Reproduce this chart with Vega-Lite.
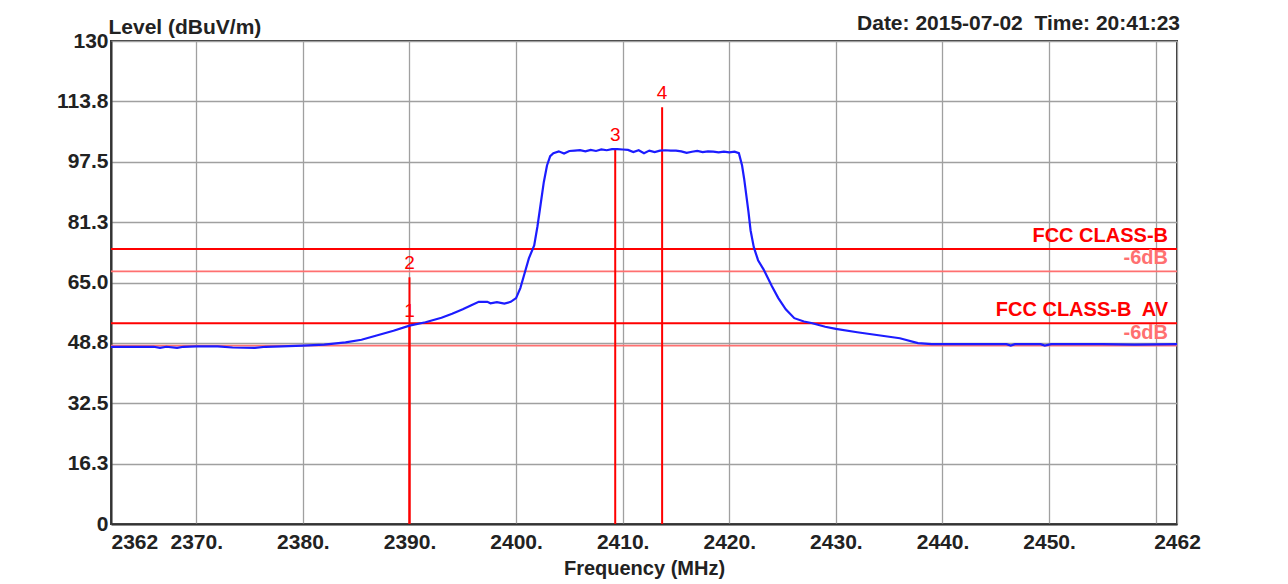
{
  "$schema": "https://vega.github.io/schema/vega-lite/v6.json",
  "width": 1066,
  "height": 483,
  "autosize": {"type": "none"},
  "padding": {"left": 111, "top": 41, "right": 111, "bottom": 60},
  "background": "white",
  "title": {
    "text": "Date: 2015-07-02\u00a0 Time: 20:41:23",
    "anchor": "end",
    "frame": "group",
    "font": "Liberation Sans",
    "fontSize": 21,
    "fontWeight": "bold",
    "color": "#222222",
    "offset": -18,
    "dx": 3
  },
  "config": {
    "view": {"stroke": "#333333", "strokeWidth": 2},
    "axis": {
      "labelFont": "Liberation Sans",
      "labelFontWeight": "bold",
      "labelFontSize": 21,
      "labelColor": "#222222",
      "titleFont": "Liberation Sans",
      "titleFontWeight": "bold",
      "titleColor": "#222222",
      "gridColor": "#a0a0a0",
      "gridWidth": 1.3,
      "gridOpacity": 1,
      "ticks": false,
      "domainColor": "#333333",
      "domainWidth": 2
    }
  },
  "datasets": {
    "trace": [
      {"f": 2362, "v": 47.7}, {"f": 2364, "v": 47.7}, {"f": 2366, "v": 47.7},
      {"f": 2366.6, "v": 47.4}, {"f": 2367.2, "v": 47.7}, {"f": 2368.2, "v": 47.4},
      {"f": 2368.8, "v": 47.7}, {"f": 2370, "v": 47.8}, {"f": 2372, "v": 47.8},
      {"f": 2373.4, "v": 47.5}, {"f": 2375.5, "v": 47.4}, {"f": 2376.5, "v": 47.7},
      {"f": 2378, "v": 47.8}, {"f": 2380, "v": 48.0}, {"f": 2382, "v": 48.3},
      {"f": 2384, "v": 48.9}, {"f": 2385.5, "v": 49.6}, {"f": 2387, "v": 50.8},
      {"f": 2388.5, "v": 52.0}, {"f": 2390, "v": 53.4}, {"f": 2391.5, "v": 54.3},
      {"f": 2393, "v": 55.5}, {"f": 2394, "v": 56.6}, {"f": 2395, "v": 57.8},
      {"f": 2395.8, "v": 58.9}, {"f": 2396.5, "v": 59.8}, {"f": 2397.3, "v": 59.8},
      {"f": 2397.6, "v": 59.4}, {"f": 2398.2, "v": 59.7}, {"f": 2398.9, "v": 59.3},
      {"f": 2399.5, "v": 59.8}, {"f": 2400, "v": 60.8}, {"f": 2400.4, "v": 63.5},
      {"f": 2400.8, "v": 67.5}, {"f": 2401.2, "v": 71.5}, {"f": 2401.7, "v": 75.0},
      {"f": 2402.0, "v": 80.0}, {"f": 2402.3, "v": 86.0}, {"f": 2402.6, "v": 92.0},
      {"f": 2402.9, "v": 96.5}, {"f": 2403.2, "v": 99.0}, {"f": 2403.5, "v": 99.8},
      {"f": 2404, "v": 100.3}, {"f": 2404.5, "v": 99.7}, {"f": 2405, "v": 100.4},
      {"f": 2405.5, "v": 100.5}, {"f": 2406, "v": 100.6}, {"f": 2406.5, "v": 100.3},
      {"f": 2407, "v": 100.7}, {"f": 2407.5, "v": 100.4}, {"f": 2408, "v": 100.8},
      {"f": 2408.5, "v": 100.6}, {"f": 2409, "v": 100.9}, {"f": 2409.5, "v": 100.9},
      {"f": 2410, "v": 100.8}, {"f": 2410.5, "v": 100.7}, {"f": 2411, "v": 100.1},
      {"f": 2411.5, "v": 100.6}, {"f": 2412, "v": 99.8}, {"f": 2412.5, "v": 100.5},
      {"f": 2413, "v": 100.1}, {"f": 2413.5, "v": 100.5}, {"f": 2414, "v": 100.6},
      {"f": 2414.5, "v": 100.5}, {"f": 2415, "v": 100.5}, {"f": 2415.5, "v": 100.3},
      {"f": 2416, "v": 99.9}, {"f": 2416.5, "v": 100.2}, {"f": 2417, "v": 100.4},
      {"f": 2417.5, "v": 100.1}, {"f": 2418, "v": 100.3}, {"f": 2418.5, "v": 100.2},
      {"f": 2419, "v": 100.0}, {"f": 2419.5, "v": 100.2}, {"f": 2420, "v": 100.0},
      {"f": 2420.5, "v": 100.2}, {"f": 2420.9, "v": 99.8}, {"f": 2421.2, "v": 96.5},
      {"f": 2421.4, "v": 92.8}, {"f": 2421.8, "v": 84.0}, {"f": 2422.0, "v": 79.0},
      {"f": 2422.3, "v": 74.5}, {"f": 2422.7, "v": 71.0}, {"f": 2423.2, "v": 68.6},
      {"f": 2424, "v": 64.0}, {"f": 2424.6, "v": 60.8}, {"f": 2425.3, "v": 57.8},
      {"f": 2426.1, "v": 55.4}, {"f": 2427, "v": 54.5}, {"f": 2427.7, "v": 54.1},
      {"f": 2429, "v": 53.1}, {"f": 2430, "v": 52.5}, {"f": 2432, "v": 51.6},
      {"f": 2434, "v": 50.8}, {"f": 2436, "v": 50.0}, {"f": 2437.7, "v": 48.7},
      {"f": 2439, "v": 48.4}, {"f": 2442, "v": 48.4}, {"f": 2446, "v": 48.4},
      {"f": 2446.4, "v": 48.0}, {"f": 2446.8, "v": 48.4}, {"f": 2449.2, "v": 48.4},
      {"f": 2449.6, "v": 48.0}, {"f": 2450.2, "v": 48.4}, {"f": 2455, "v": 48.4},
      {"f": 2458, "v": 48.3}, {"f": 2462, "v": 48.4}
    ],
    "limits": [
      {"level": 74, "label": "FCC CLASS-B", "kind": "limit"},
      {"level": 68, "label": "-6dB", "kind": "margin"},
      {"level": 54, "label": "FCC CLASS-B\u00a0 AV", "kind": "limit"},
      {"level": 48, "label": "-6dB", "kind": "margin"}
    ],
    "markers": [
      {"f": 2390.0, "v": 53.5, "id": "1"},
      {"f": 2390.0, "v": 66.4, "id": "2"},
      {"f": 2409.3, "v": 100.9, "id": "3"},
      {"f": 2413.7, "v": 112.2, "id": "4"}
    ]
  },
  "layer": [
    {
      "data": {"name": "trace"},
      "mark": {"type": "line", "opacity": 0},
      "encoding": {
        "x": {
          "field": "f",
          "type": "quantitative",
          "title": "Frequency (MHz)",
          "scale": {"domain": [2362, 2462], "nice": false, "zero": false},
          "axis": {
            "title": "Frequency (MHz)",
            "titleFontSize": 20,
            "titlePadding": 6,
            "values": [2362, 2370, 2380, 2390, 2400, 2410, 2420, 2430, 2440, 2450, 2460, 2462],
            "labelExpr": "datum.value == 2460 ? '' : ((datum.value == 2362 || datum.value == 2462) ? '' + datum.value : datum.value + '.')",
            "labelAlign": {"condition": {"test": "datum.value == 2362", "value": "left"}, "value": "center"},
            "labelPadding": 7,
            "labelOverlap": false,
            "labelFlush": false
          }
        },
        "y": {
          "field": "v",
          "type": "quantitative",
          "title": "Level (dBuV/m)",
          "scale": {"domain": [0, 130], "nice": false, "zero": true},
          "axis": {
            "title": "Level (dBuV/m)",
            "titleFontSize": 21,
            "titleAngle": 0,
            "titleAlign": "left",
            "titleBaseline": "middle",
            "titleX": -3,
            "titleY": -14,
            "values": [0, 16.25, 32.5, 48.75, 65, 81.25, 97.5, 113.75, 130],
            "labelExpr": "datum.value == 0 ? '0' : (datum.value == 130 ? '130' : format(datum.value, '.1f'))",
            "labelPadding": 3,
            "labelOverlap": false,
            "labelFlush": false
          }
        }
      }
    },
    {
      "data": {"name": "limits"},
      "transform": [{"filter": "datum.kind == 'margin'"}],
      "mark": {"type": "rule", "color": "#ff7070", "strokeWidth": 1.6},
      "encoding": {
        "y": {"field": "level", "type": "quantitative", "title": "Level (dBuV/m)"}
      }
    },
    {
      "data": {"name": "limits"},
      "transform": [{"filter": "datum.kind == 'limit'"}],
      "mark": {"type": "rule", "color": "#ff0000", "strokeWidth": 2},
      "encoding": {
        "y": {"field": "level", "type": "quantitative", "title": "Level (dBuV/m)"}
      }
    },
    {
      "data": {"name": "limits"},
      "mark": {"type": "text", "align": "right", "baseline": "middle", "dx": -9, "dy": -13, "font": "Liberation Sans", "fontSize": 20, "fontWeight": "bold"},
      "encoding": {
        "x": {"datum": 2462, "type": "quantitative", "title": "Frequency (MHz)"},
        "y": {"field": "level", "type": "quantitative", "title": "Level (dBuV/m)"},
        "text": {"field": "label", "type": "nominal"},
        "color": {"field": "kind", "type": "nominal", "scale": {"domain": ["limit", "margin"], "range": ["#ff0000", "#ff7070"]}, "legend": null}
      }
    },
    {
      "data": {"name": "markers"},
      "mark": {"type": "rule", "color": "#ff0000", "strokeWidth": 2},
      "encoding": {
        "x": {"field": "f", "type": "quantitative", "title": "Frequency (MHz)"},
        "y": {"field": "v", "type": "quantitative", "title": "Level (dBuV/m)"},
        "y2": {"datum": 0}
      }
    },
    {
      "data": {"name": "markers"},
      "mark": {"type": "text", "align": "center", "baseline": "middle", "dy": -14, "font": "Liberation Sans", "fontSize": 19, "color": "#ff0000"},
      "encoding": {
        "x": {"field": "f", "type": "quantitative", "title": "Frequency (MHz)"},
        "y": {"field": "v", "type": "quantitative", "title": "Level (dBuV/m)"},
        "text": {"field": "id", "type": "nominal"}
      }
    },
    {
      "data": {"name": "trace"},
      "mark": {"type": "line", "color": "#1c1cff", "strokeWidth": 2.2, "interpolate": "linear"},
      "encoding": {
        "x": {"field": "f", "type": "quantitative", "title": "Frequency (MHz)"},
        "y": {"field": "v", "type": "quantitative", "title": "Level (dBuV/m)"}
      }
    }
  ]
}
